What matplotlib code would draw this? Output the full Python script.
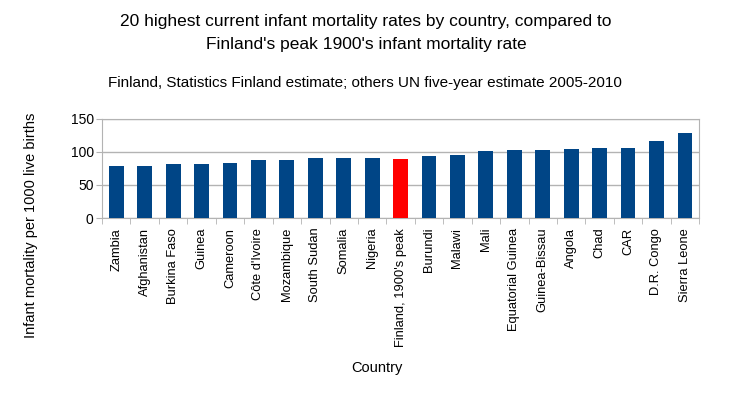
import numpy as np
import matplotlib.pyplot as plt

plt.rcParams['font.family'] = ['Liberation Sans', 'DejaVu Sans']

countries = ["Zambia", "Afghanistan", "Burkina Faso", "Guinea", "Cameroon",
             "Côte d'Ivoire", "Mozambique", "South Sudan", "Somalia", "Nigeria",
             "Finland, 1900's peak", "Burundi", "Malawi", "Mali",
             "Equatorial Guinea", "Guinea-Bissau", "Angola", "Chad", "CAR",
             "D.R. Congo", "Sierra Leone"]
rates = [79, 79, 82, 82, 84, 88, 88, 91, 91, 91, 90, 94, 96, 101,
         103, 103, 105, 106, 106, 117, 128]
highlight = "Finland, 1900's peak"

blue = "#004586"
red = "#ff0000"
grid = "#b3b3b3"

fig = plt.figure(figsize=(7.29, 3.95), dpi=100)
ax = fig.add_axes([0.140, 0.448, 0.819, 0.251])

x = np.arange(len(countries))
colors = [red if c == highlight else blue for c in countries]
ax.bar(x, rates, width=0.52, color=colors, zorder=3)

ax.set_xlim(-0.5, len(countries) - 0.5)
ax.set_ylim(0, 150)
ax.set_yticks([0, 50, 100, 150])
ax.yaxis.grid(True, color=grid, linewidth=1, zorder=0)

ax.set_xticks(x)
ax.set_xticklabels(countries, rotation=90, fontsize=9.3)
ax.set_xticks(np.arange(-0.5, len(countries)), minor=True)
ax.tick_params(axis='x', which='major', length=0, pad=7)
ax.tick_params(axis='x', which='minor', length=4, color=grid)
ax.tick_params(axis='y', length=4, color=grid, labelsize=10, pad=2)

for s in ax.spines.values():
    s.set_color(grid)

ax.set_ylabel("Infant mortality per 1000 live births", fontsize=10.5)
ax.yaxis.set_label_coords(-0.108, -0.07)
ax.set_xlabel("Country", fontsize=10.5)
ax.xaxis.set_label_coords(0.46, -1.44)

fig.text(0.502, 0.945, "20 highest current infant mortality rates by country, compared to",
         ha='center', va='center', fontsize=12.5)
fig.text(0.502, 0.887, "Finland's peak 1900's infant mortality rate",
         ha='center', va='center', fontsize=12.5)
fig.text(0.5, 0.79, "Finland, Statistics Finland estimate; others UN five-year estimate 2005-2010",
         ha='center', va='center', fontsize=11)

fig.savefig("out.png", dpi=100)
